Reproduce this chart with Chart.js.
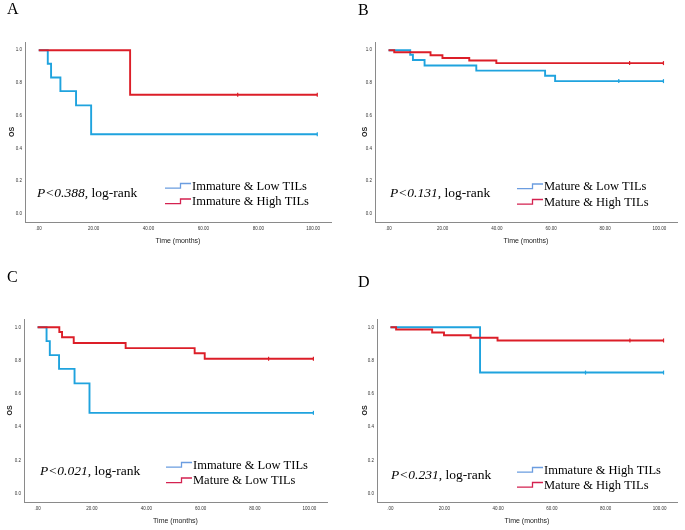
<!DOCTYPE html>
<html>
<head>
<meta charset="utf-8">
<script src="https://cdn.jsdelivr.net/npm/chart.js@4.4.1/dist/chart.umd.min.js"></script>
<style>
  body { margin: 0; background: #fff; }
  #wrap { position: relative; width: 685px; height: 530px; overflow: hidden; background: #fff; }
  canvas { position: absolute; }
</style>
</head>
<body>
<div id="wrap">
  <canvas id="chartA" width="340" height="265" style="left:0;top:0"></canvas>
  <canvas id="chartB" width="345" height="265" style="left:340px;top:0"></canvas>
  <canvas id="chartC" width="340" height="265" style="left:0;top:265px"></canvas>
  <canvas id="chartD" width="345" height="265" style="left:340px;top:265px"></canvas>
</div>
<script>
// axis ticks
const xTickValues = [0, 20, 40, 60, 80, 100];
const xTickLabels = ['.00', '20.00', '40.00', '60.00', '80.00', '100.00'];
const yTickValues = [0, 0.2, 0.4, 0.6, 0.8, 1.0];
const yTickLabels = ['0.0', '0.2', '0.4', '0.6', '0.8', '1.0'];

// Kaplan-Meier steps: time (months) and OS after each step, censored times
const immLowTime = [0, 3.3, 4.5, 7.9, 13.6, 19.1, 101.5];
const immLowOS = [1.0, 0.917, 0.833, 0.750, 0.663, 0.486, 0.486];
const immLowCensor = [101.5];

const immHighTime = [0, 33.3, 101.5];
const immHighOS = [1.0, 0.728, 0.728];
const immHighCensor = [72.5, 101.5];

const matLowTime = [0, 8.0, 9.0, 13.3, 32.4, 57.8, 61.5, 101.5];
const matLowOS = [1.0, 0.972, 0.940, 0.906, 0.875, 0.844, 0.811, 0.811];
const matLowCensor = [85, 101.5];

const matHighTime = [0, 2.1, 15.5, 19.9, 29.8, 39.8, 101.5];
const matHighOS = [1.0, 0.987, 0.969, 0.952, 0.937, 0.921, 0.921];
const matHighCensor = [89, 101.5];

const pValues = ['0.388', '0.131', '0.021', '0.231'];

const BLUE = '#1fa3de';
const RED = '#dc1e28';
const LEG_BLUE = '#6b9de0';
const LEG_RED = '#d42250';
const AXIS = '#8a8a8a';

const groups = {
    immLow: { name: 'Immature & Low TILs', t: immLowTime, s: immLowOS, c: immLowCensor },
    immHigh: { name: 'Immature & High TILs', t: immHighTime, s: immHighOS, c: immHighCensor },
    matLow: { name: 'Mature & Low TILs', t: matLowTime, s: matLowOS, c: matLowCensor },
    matHigh: { name: 'Mature & High TILs', t: matHighTime, s: matHighOS, c: matHighCensor },
};

function osAt(g, time) {
    let v = g.s[0];
    for (let i = 0; i < g.t.length; i++) {
        if (g.t[i] <= time) v = g.s[i];
    }
    return v;
}

// texto do painel: letra, valor P e legenda
const kmNotes = {
    id: 'kmNotes',
    afterDraw(chart, args, o) {
        const ctx = chart.ctx;
        ctx.save();
        ctx.fillStyle = '#000';
        ctx.textBaseline = 'alphabetic';
        ctx.textAlign = 'left';

        ctx.font = '16px "Liberation Serif"';
        ctx.fillText(o.letter, o.letterX, o.letterY);

        ctx.font = 'italic 13.5px "Liberation Serif"';
        const head = 'P<' + o.p;
        ctx.fillText(head, o.pX, o.pY);
        const w = ctx.measureText(head).width;
        ctx.font = '13.5px "Liberation Serif"';
        ctx.fillText(', log-rank', o.pX + w, o.pY);

        ctx.font = '12.5px "Liberation Serif"';
        const lines = chart.data.datasets.filter(d => d.isCurve);
        lines.forEach((d, i) => {
            const y = o.legY[i];
            ctx.strokeStyle = d.legendColor;
            ctx.lineWidth = 1.3;
            ctx.beginPath();
            ctx.moveTo(o.legX, y - 1.3);
            ctx.lineTo(o.legX + 15.5, y - 1.3);
            ctx.lineTo(o.legX + 15.5, y - 6);
            ctx.lineTo(o.legX + 26, y - 6);
            ctx.stroke();
            ctx.fillText(d.label, o.legX + 27, y);
        });
        ctx.restore();
    }
};

function makeChart(id, blueKey, redKey, lay, notes) {
    const b = groups[blueKey];
    const r = groups[redKey];
    const curve = (g, color, legendColor, order) => ({
        label: g.name,
        isCurve: true,
        legendColor: legendColor,
        data: g.t.map((t, i) => ({ x: t, y: g.s[i] })),
        borderColor: color,
        borderWidth: 1.9,
        stepped: 'before',
        pointRadius: 0,
        fill: false,
        order: order,
    });
    const censor = (g, color) => ({
        label: g.name + ' censored',
        data: g.c.map(t => ({ x: t, y: osAt(g, t) })),
        showLine: false,
        pointStyle: 'line',
        rotation: 90,
        pointRadius: 2,
        borderColor: color,
        borderWidth: 1.2,
        order: 0,
    });

    return new Chart(document.getElementById(id).getContext('2d'), {
        type: 'line',
        data: {
            datasets: [
                curve(b, BLUE, LEG_BLUE, 2),
                curve(r, RED, LEG_RED, 1),
                censor(b, BLUE),
                censor(r, RED),
            ],
        },
        options: {
            responsive: false,
            animation: false,
            events: [],
            layout: { padding: lay.pad },
            plugins: {
                legend: { display: false },
                tooltip: { enabled: false },
                kmNotes: notes,
            },
            scales: {
                x: {
                    type: 'linear',
                    min: -5,
                    max: 106.5,
                    grid: { display: false, drawTicks: false },
                    border: { display: true, color: AXIS, width: 1 },
                    afterBuildTicks: s => { s.ticks = xTickValues.map(v => ({ value: v })); },
                    afterFit: s => { s.height = 23; },
                    ticks: {
                        padding: 4.5,
                        color: '#333',
                        font: { family: '"Liberation Sans"', size: 4.5 },
                        callback: (v, i) => xTickLabels[i],
                    },
                    title: {
                        display: true,
                        text: 'Time (months)',
                        color: '#222',
                        padding: 0,
                        font: { family: '"Liberation Sans"', size: 7 },
                    },
                },
                y: {
                    type: 'linear',
                    min: -0.05,
                    max: 1.05,
                    grid: { display: false, drawTicks: false },
                    border: { display: true, color: AXIS, width: 1 },
                    afterBuildTicks: s => { s.ticks = yTickValues.map(v => ({ value: v })); },
                    afterFit: s => { s.width = lay.yWidth; },
                    ticks: {
                        padding: 3,
                        color: '#333',
                        font: { family: '"Liberation Sans"', size: 4.5 },
                        callback: (v, i) => yTickLabels[i],
                    },
                    title: {
                        display: true,
                        text: 'OS',
                        color: '#222',
                        padding: 0,
                        font: { family: '"Liberation Sans"', size: 7, weight: 'bold' },
                    },
                },
            },
        },
        plugins: [kmNotes],
    });
}

makeChart('chartA', 'immLow', 'immHigh',
    { pad: { left: 8, right: 9, top: 42, bottom: 20 }, yWidth: 17 },
    { letter: 'A', letterX: 7, letterY: 14, p: pValues[0], pX: 37, pY: 196.5, legX: 165, legY: [189.5, 205] });

makeChart('chartB', 'matLow', 'matHigh',
    { pad: { left: 21, right: 8, top: 42, bottom: 20 }, yWidth: 14 },
    { letter: 'B', letterX: 18, letterY: 15, p: pValues[1], pX: 50, pY: 196.5, legX: 177, legY: [190, 205.5] });

makeChart('chartC', 'immLow', 'matLow',
    { pad: { left: 6, right: 13, top: 54, bottom: 5 }, yWidth: 18 },
    { letter: 'C', letterX: 7, letterY: 17, p: pValues[2], pX: 40, pY: 209.5, legX: 166, legY: [203.5, 219] });

makeChart('chartD', 'immHigh', 'matHigh',
    { pad: { left: 21, right: 8, top: 54, bottom: 5 }, yWidth: 16 },
    { letter: 'D', letterX: 18, letterY: 22, p: pValues[3], pX: 51, pY: 214, legX: 177, legY: [208.5, 223.5] });
</script>
</body>
</html>
